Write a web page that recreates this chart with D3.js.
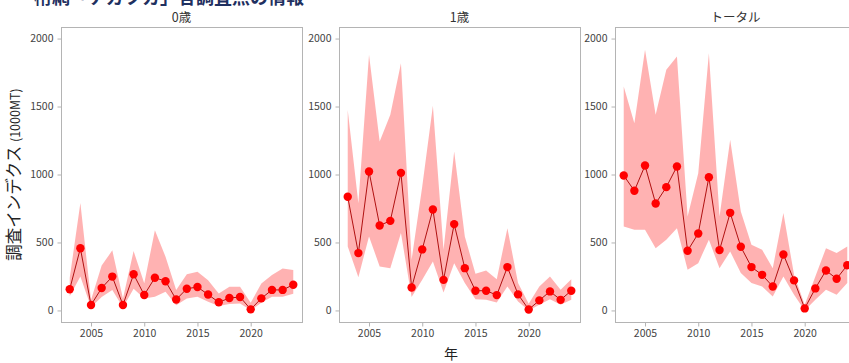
<!DOCTYPE html>
<html>
<head>
<meta charset="utf-8">
<script src="https://cdn.jsdelivr.net/npm/d3@7"></script>
<style>
  html, body { margin: 0; padding: 0; background: #fff; }
  svg { display: block; font-family: "Noto Sans CJK JP", "Noto Sans", sans-serif; }
</style>
</head>
<body>
<svg id="chart" width="849" height="363"></svg>
<script>
// Survey index by age class, 2003–2024, with estimate and confidence band
const years = d3.range(2003, 2025);
const panelTitles = ["0歳", "1歳", "トータル"];

const age0Index = [156, 457, 40, 165, 249, 40, 266, 114, 241, 215, 80, 160, 172, 117, 60, 91, 99, 8, 89, 151, 151, 189];
const age0Upper = [240, 790, 77, 330, 442, 88, 437, 200, 590, 395, 150, 267, 284, 223, 125, 174, 174, 56, 199, 260, 309, 297];
const age0Lower = [105, 249, 23, 98, 150, 22, 160, 88, 100, 137, 39, 88, 100, 64, 32, 47, 51, 2, 56, 100, 100, 122];

const age1Index = [836, 422, 1022, 625, 659, 1012, 169, 449, 743, 225, 635, 311, 145, 145, 113, 319, 118, 7, 74, 140, 78, 145];
const age1Upper = [1475, 789, 1880, 1243, 1439, 1819, 373, 912, 1505, 446, 1169, 544, 270, 294, 230, 605, 201, 49, 176, 250, 152, 230];
const age1Lower = [471, 245, 544, 324, 311, 569, 98, 225, 360, 132, 348, 201, 83, 78, 59, 176, 66, 0, 42, 83, 42, 78];

const totalIndex = [993, 880, 1066, 787, 907, 1059, 439, 566, 980, 444, 718, 468, 319, 262, 176, 412, 221, 15, 162, 294, 233, 333];
const totalUpper = [1647, 1377, 1917, 1439, 1770, 1868, 691, 1010, 1892, 691, 1255, 728, 483, 446, 311, 716, 262, 42, 250, 458, 422, 471];
const totalLower = [618, 593, 593, 458, 520, 605, 299, 348, 520, 311, 434, 275, 201, 176, 103, 250, 115, 0, 78, 152, 115, 201];

const yTicks = [0, 500, 1000, 1500, 2000];
const xTicks = [2005, 2010, 2015, 2020];

const panels = [
  { title: panelTitles[0], index: age0Index, upper: age0Upper, lower: age0Lower },
  { title: panelTitles[1], index: age1Index, upper: age1Upper, lower: age1Lower },
  { title: panelTitles[2], index: totalIndex, upper: totalUpper, lower: totalLower }
];

const svg = d3.select("#chart");
const panelLeft = [61, 339, 615];
const panelW = 241, plotTop = 27, plotBottom = 322;

// figure heading, partly above the frame
svg.append("text")
  .attr("x", 34).attr("y", 4)
  .attr("font-size", 18).attr("font-weight", "bold")
  .attr("fill", "#1f3060")
  .text("桁網「ナガヅカ」各調査点の情報");

const y = d3.scaleLinear().domain([-85, 2085]).range([plotBottom, plotTop]);

panels.forEach((p, i) => {
  const x0 = panelLeft[i];
  const x = d3.scaleLinear().domain([2002.18, 2024.82]).range([x0, x0 + panelW]);
  const g = svg.append("g");

  const band = d3.area()
    .x((d, k) => x(years[k]))
    .y0((d, k) => y(p.lower[k]))
    .y1((d, k) => y(p.upper[k]));
  g.append("path").datum(p.index)
    .attr("d", band)
    .attr("fill", "#ff0000").attr("fill-opacity", 0.3);

  const line = d3.line().x((d, k) => x(years[k])).y(d => y(d));
  g.append("path").datum(p.index)
    .attr("d", line)
    .attr("fill", "none").attr("stroke", "#b01010").attr("stroke-width", 1);

  g.selectAll("circle").data(p.index).join("circle")
    .attr("cx", (d, k) => x(years[k])).attr("cy", d => y(d))
    .attr("r", 4.2).attr("fill", "#ff0000");

  // frame
  g.append("rect")
    .attr("x", x0 + 0.5).attr("y", plotTop + 0.5)
    .attr("width", panelW).attr("height", plotBottom - plotTop)
    .attr("fill", "none").attr("stroke", "#b4b4b4").attr("stroke-width", 1);

  const yAxis = g.append("g").attr("transform", `translate(${x0 + 0.5},0)`)
    .call(d3.axisLeft(y).tickValues(yTicks).tickSize(4).tickPadding(4).tickFormat(d3.format("d")));
  const xAxis = g.append("g").attr("transform", `translate(0,${plotBottom + 0.5})`)
    .call(d3.axisBottom(x).tickValues(xTicks).tickSize(4).tickPadding(3).tickFormat(d3.format("d")));
  [yAxis, xAxis].forEach(a => {
    a.select(".domain").remove();
    a.selectAll("line").attr("stroke", "#b4b4b4");
    a.selectAll("text").attr("fill", "#444").attr("font-size", 10.5)
      .attr("font-family", "\"Noto Sans CJK JP\", sans-serif");
  });

  svg.append("text")
    .attr("x", x0 + panelW / 2).attr("y", 22)
    .attr("text-anchor", "middle").attr("font-size", 12.5).attr("fill", "#333")
    .text(p.title);
});

// axis titles
svg.append("text")
  .attr("transform", `translate(20,${(plotTop + plotBottom) / 2}) rotate(-90)`)
  .attr("text-anchor", "middle").attr("font-size", 16.5).attr("fill", "#222")
  .call(t => {
    t.append("tspan").text("調査インデクス ");
    t.append("tspan").attr("font-size", 12.5).text("(1000MT)");
  });

svg.append("text")
  .attr("x", 451).attr("y", 359)
  .attr("text-anchor", "middle").attr("font-size", 14).attr("fill", "#222")
  .text("年");
</script>
</body>
</html>
